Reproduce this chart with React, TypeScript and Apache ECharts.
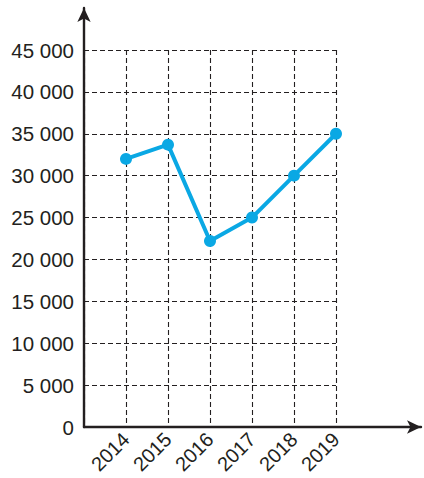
import React, { useEffect, useRef } from "react";
import * as echarts from "echarts";

const categories = ["", "2014", "2015", "2016", "2017", "2018", "2019"];
const values = [null, 32000, 33700, 22200, 25000, 30000, 35000];
const yMin = 0;
const yMax = 45000;
const yStep = 5000;

const fmt = (v: number) => String(v).replace(/\B(?=(\d{3})+(?!\d))/g, " ");

export default function App() {
  const ref = useRef<HTMLDivElement>(null);
  useEffect(() => {
    if (!ref.current) return;
    const chart = echarts.init(ref.current, undefined, { renderer: "svg" });
    const ink = "#231f20";
    const font = "Liberation Sans";
    chart.setOption({
      animation: false,
      backgroundColor: "#ffffff",
      grid: [
        { left: 84, right: 88, top: 50, bottom: 51 },
        { left: 84, right: 3, top: 8, bottom: 51 },
      ],
      xAxis: [
        {
          type: "category",
          gridIndex: 0,
          data: categories,
          boundaryGap: false,
          axisLine: { show: false },
          axisTick: { show: false },
          axisLabel: {
            rotate: 45,
            margin: 9,
            fontSize: 20,
            fontFamily: font,
            color: ink,
            interval: 0,
          },
          splitLine: { show: true, lineStyle: { type: [5, 3], color: ink, width: 1.1 } },
        },
        {
          type: "value",
          gridIndex: 1,
          min: 0,
          max: 1,
          axisLine: { show: true, symbol: ["none", "arrow"], symbolSize: [10, 14], lineStyle: { color: ink, width: 2.4 } },
          axisTick: { show: false },
          axisLabel: { show: false },
          splitLine: { show: false },
        },
      ],
      yAxis: [
        {
          type: "value",
          gridIndex: 0,
          min: yMin,
          max: yMax,
          interval: yStep,
          axisLine: { show: false },
          axisTick: { show: false },
          axisLabel: {
            margin: 10,
            fontSize: 20.5,
            fontFamily: font,
            color: ink,
            formatter: (v: number) => fmt(v),
          },
          splitLine: { show: true, lineStyle: { type: [5, 3], color: ink, width: 1.1 } },
        },
        {
          type: "value",
          gridIndex: 1,
          min: 0,
          max: 1,
          axisLine: { show: true, symbol: ["none", "arrow"], symbolSize: [10, 14], lineStyle: { color: ink, width: 2.4 } },
          axisTick: { show: false },
          axisLabel: { show: false },
          splitLine: { show: false },
        },
      ],
      series: [
        {
          type: "line",
          xAxisIndex: 0,
          yAxisIndex: 0,
          data: values,
          symbol: "circle",
          symbolSize: 12,
          lineStyle: { color: "#0aa8e4", width: 4 },
          itemStyle: { color: "#0aa8e4" },
          z: 5,
        },
      ],
    });
    return () => chart.dispose();
  }, []);
  return <div ref={ref} style={{ width: 424, height: 478, position: "absolute", left: 0, top: 0 }} />;
}
